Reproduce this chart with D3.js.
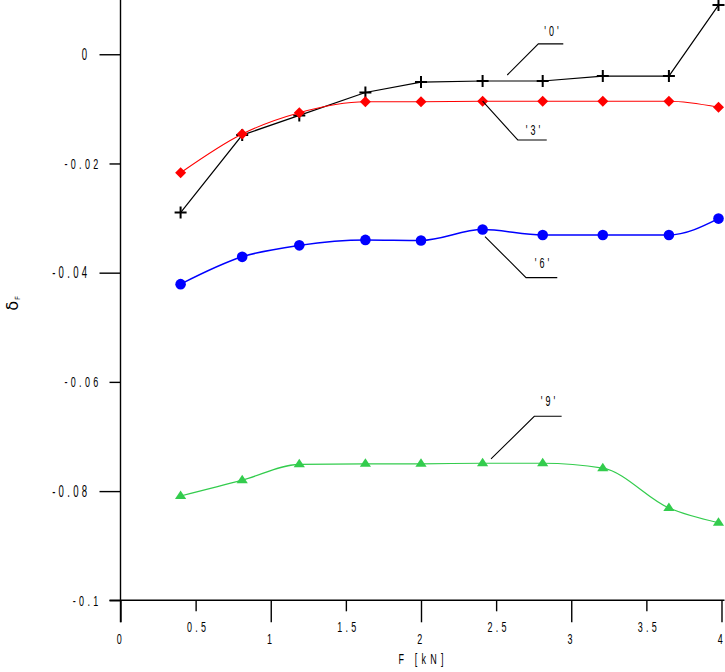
<!DOCTYPE html>
<html><head><meta charset="utf-8">
<script src="https://cdn.jsdelivr.net/npm/d3@7"></script>
<style>
html,body{margin:0;padding:0;background:#fff;}
svg{display:block;}
</style></head>
<body>
<svg id="chart" width="725" height="672"></svg>
<script>
// ---------- data ----------
const xValues = [0.40, 0.81, 1.19, 1.63, 2.00, 2.41, 2.81, 3.21, 3.65, 3.98];
const series0 = [-0.0290, -0.0148, -0.0112, -0.0070, -0.0051, -0.0049, -0.0049, -0.0040, -0.0040, 0.0090];
const series3 = [-0.0217, -0.0146, -0.0107, -0.0087, -0.0087, -0.0086, -0.0086, -0.0086, -0.0086, -0.0097];
const series6 = [-0.0421, -0.0371, -0.0350, -0.0340, -0.0341, -0.0321, -0.0331, -0.0331, -0.0331, -0.0301];
const series9 = [-0.0809, -0.0780, -0.0751, -0.0750, -0.0750, -0.0749, -0.0749, -0.0758, -0.0831, -0.0858];
const seriesNames = ["'0'", "'3'", "'6'", "'9'"];
const xTickValues = [0, 0.5, 1, 1.5, 2, 2.5, 3, 3.5, 4];
const xTickLabels = ["0", "0.5", "1", "1.5", "2", "2.5", "3", "3.5", "4"];
const yTickValues = [0, -0.02, -0.04, -0.06, -0.08, -0.1];
const yTickLabels = ["0", "-0.02", "-0.04", "-0.06", "-0.08", "-0.1"];
const xTitle = "F [kN]";
// annotation: label position, elbow, horizontal end, pointer end (data units)
const annLabelX = [2.869, 2.745, 2.805, 2.845];
const annLabelY = [0.0043, -0.0137, -0.0381, -0.0635];
const annElbowX = [2.781, 2.644, 2.699, 2.754];
const annElbowY = [0.0019, -0.0157, -0.0409, -0.0663];
const annEndX   = [2.947, 2.837, 2.907, 2.936];
const annTipX   = [2.574, 2.41, 2.426, 2.466];
const annTipY   = [-0.0038, -0.0086, -0.0334, -0.0741];

// ---------- setup ----------
const svg = d3.select("#chart");
const x = d3.scaleLinear().domain([0, 4.02]).range([120.5, 724.5]);
const y = d3.scaleLinear().domain([-0.1, 0.01]).range([600.3, -0.35]);
const SX = 0.6;            // horizontal condensing of the text
const FONT = "'Liberation Sans', Arial, sans-serif";

function condense(sel, px) {
  sel.attr("x", px / SX)
     .attr("transform", `scale(${SX},1)`)
     .style("font-family", FONT)
     .style("font-size", "15px")
     .style("letter-spacing", "5.5px")
     .attr("fill", "#000");
}

// ---------- y axis ----------
const yLong = yTickValues.filter((d, i) => i % 2 === 0);
const yShort = yTickValues.filter((d, i) => i % 2 === 1);
const yLabel = d => yTickLabels[yTickValues.indexOf(d)];

const gyLong = svg.append("g").attr("transform", `translate(${x(0)},0)`)
  .call(d3.axisLeft(y).tickValues(yLong).tickSize(21).tickSizeOuter(0).tickFormat(yLabel));
gyLong.select(".domain").remove();
gyLong.selectAll("text").call(condense, -30).attr("text-anchor", "end").style("font-size", "16px");

const gyShort = svg.append("g").attr("transform", `translate(${x(0)},0)`)
  .call(d3.axisLeft(y).tickValues(yShort).tickSize(11).tickSizeOuter(0).tickFormat(yLabel));
gyShort.select(".domain").remove();
gyShort.selectAll("text").call(condense, -19).attr("text-anchor", "end");

// ---------- x axis ----------
const xLabel = d => xTickLabels[xTickValues.indexOf(d)];
const xInt = xTickValues.filter(d => Number.isInteger(d));
const xHalf = xTickValues.filter(d => !Number.isInteger(d));

const gxLong = svg.append("g").attr("transform", `translate(0,${y(-0.1)})`)
  .call(d3.axisBottom(x).tickValues(xInt).tickSize(22).tickPadding(11).tickSizeOuter(0).tickFormat(xLabel));
gxLong.select(".domain").remove();
gxLong.selectAll(".tick text").each(function() {
  d3.select(this).call(condense, 0).attr("text-anchor", "middle");
});

const gxHalf = svg.append("g").attr("transform", `translate(0,${y(-0.1)})`)
  .call(d3.axisBottom(x).tickValues(xHalf).tickSize(11).tickPadding(10).tickSizeOuter(0).tickFormat(xLabel));
gxHalf.select(".domain").remove();
gxHalf.selectAll(".tick text").each(function() {
  d3.select(this).call(condense, 2).attr("text-anchor", "middle");
});

svg.selectAll(".tick line").attr("stroke", "#000").attr("stroke-width", 1.4);

// axis lines
svg.append("line")
  .attr("x1", x(0)).attr("x2", x(0))
  .attr("y1", y(0.01)).attr("y2", y(-0.1) + 22)
  .attr("stroke", "#000").attr("stroke-width", 1.4);
svg.append("line")
  .attr("x1", x(0) - 11).attr("x2", x(4.02))
  .attr("y1", y(-0.1)).attr("y2", y(-0.1))
  .attr("stroke", "#000").attr("stroke-width", 1.4);

// ---------- titles ----------
svg.append("text")
  .attr("transform", `translate(${x(2) + 2},${y(-0.1) + 64}) scale(${SX},1)`)
  .attr("text-anchor", "middle")
  .style("font-family", FONT).style("font-size", "15px").style("letter-spacing", "7px")
  .text(xTitle);

const yt = svg.append("text")
  .attr("transform", `translate(18,${(y(-0.04) + y(-0.06)) / 2 - 24}) rotate(-90)`)
  .attr("text-anchor", "middle")
  .style("font-family", "'DejaVu Sans', sans-serif").style("font-size", "16px");
yt.append("tspan").text("δ");
yt.append("tspan").attr("dy", 2).attr("dx", 1).style("font-size", "7px").text("F");

// ---------- series ----------
const smooth = d3.line().x(d => x(d[0])).y(d => y(d[1])).curve(d3.curveMonotoneX);
const straight = d3.line().x(d => x(d[0])).y(d => y(d[1]));
const pts = s => xValues.map((v, i) => [v, s[i]]);

const series = [
  {vals: series0, color: "#000000", line: straight, width: 1.2, marker: "cross"},
  {vals: series3, color: "#ff0000", line: smooth, width: 1.1, marker: "diamond"},
  {vals: series6, color: "#0000ff", line: smooth, width: 1.5, marker: "circle"},
  {vals: series9, color: "#33cc4d", line: smooth, width: 1.2, marker: "triangle"}
];

series.forEach(s => {
  const g = svg.append("g");
  g.append("path").attr("d", s.line(pts(s.vals)))
    .attr("fill", "none").attr("stroke", s.color).attr("stroke-width", s.width);
  const m = g.selectAll(".m").data(pts(s.vals)).enter();
  if (s.marker === "cross") {
    m.append("path")
      .attr("d", d => `M${x(d[0]) - 6},${y(d[1])}h12M${x(d[0])},${y(d[1]) - 6}v12`)
      .attr("stroke", s.color).attr("stroke-width", 2).attr("fill", "none");
  } else if (s.marker === "diamond") {
    m.append("path")
      .attr("d", d => `M${x(d[0])},${y(d[1]) - 5.5}l5.5,5.5l-5.5,5.5l-5.5,-5.5z`)
      .attr("fill", s.color);
  } else if (s.marker === "circle") {
    m.append("circle").attr("cx", d => x(d[0])).attr("cy", d => y(d[1])).attr("r", 5.3)
      .attr("fill", s.color);
  } else {
    m.append("path")
      .attr("d", d => `M${x(d[0])},${y(d[1]) - 5.5}l5.6,8.5h-11.2z`)
      .attr("fill", s.color);
  }
});

// ---------- annotations ----------
seriesNames.forEach((name, i) => {
  svg.append("path")
    .attr("d", `M${x(annEndX[i])},${y(annElbowY[i])}H${x(annElbowX[i])}L${x(annTipX[i])},${y(annTipY[i])}`)
    .attr("fill", "none").attr("stroke", "#000").attr("stroke-width", 1.1);
  svg.append("text")
    .attr("transform", `translate(${x(annLabelX[i]) + 1.5},${y(annLabelY[i]) + 5.5}) scale(${SX},1)`)
    .attr("text-anchor", "middle")
    .style("font-family", FONT).style("font-size", "15px").style("letter-spacing", "5px")
    .attr("fill", "#000")
    .text(name);
});
</script>
</body></html>
